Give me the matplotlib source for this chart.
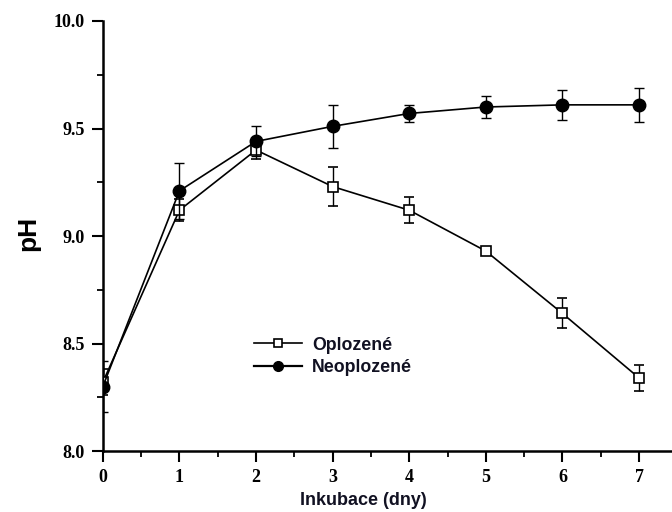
import numpy as np
import matplotlib.pyplot as plt
from matplotlib.ticker import MultipleLocator

days = [0, 1, 2, 3, 4, 5, 6, 7]

# fertilised eggs
ph_opl = [8.32, 9.12, 9.40, 9.23, 9.12, 8.93, 8.64, 8.34]
err_opl = [0.06, 0.05, 0.04, 0.09, 0.06, 0.02, 0.07, 0.06]

# unfertilised eggs
ph_neo = [8.30, 9.21, 9.44, 9.51, 9.57, 9.60, 9.61, 9.61]
err_neo = [0.12, 0.13, 0.07, 0.10, 0.04, 0.05, 0.07, 0.08]

fig = plt.figure(figsize=(6.72, 5.12), dpi=100)
ax = fig.add_axes([0.153, 0.119, 0.847, 0.840])

ax.errorbar(days, ph_opl, yerr=err_opl, color='k', lw=1.2, marker='s',
            ms=7, mfc='white', mec='k', mew=1.2, capsize=3.5, elinewidth=1.0,
            capthick=1.0, zorder=3)
ax.errorbar(days, ph_neo, yerr=err_neo, color='k', lw=1.2, marker='o',
            ms=9, mfc='k', mec='k', capsize=3.5, elinewidth=1.0,
            capthick=1.0, zorder=4)

# legend handles without error bars
h1, = ax.plot([], [], color='k', lw=1.2, marker='s', ms=6, mfc='white',
              mec='k', mew=1.2, label='Oplozené')
h2, = ax.plot([], [], color='k', lw=1.6, marker='o', ms=7, mfc='k',
              mec='k', label='Neoplozené')

ax.set_xlim(0, 7.43)
ax.set_ylim(8.0, 10.0)
ax.xaxis.set_major_locator(MultipleLocator(1))
ax.xaxis.set_minor_locator(MultipleLocator(0.5))
ax.yaxis.set_major_locator(MultipleLocator(0.5))
ax.yaxis.set_minor_locator(MultipleLocator(0.25))
ax.yaxis.set_major_formatter(plt.FormatStrFormatter('%.1f'))

for side in ['top', 'right']:
    ax.spines[side].set_visible(False)
for side in ['left', 'bottom']:
    ax.spines[side].set_linewidth(1.8)

ax.tick_params(which='major', direction='out', length=8, width=1.5, pad=5)
ax.tick_params(which='minor', direction='out', length=4, width=1.3)
for lab in ax.get_xticklabels() + ax.get_yticklabels():
    lab.set_family('Liberation Serif')
    lab.set_fontsize(13)
    lab.set_fontweight('bold')

ax.set_xlabel('Inkubace (dny)', family='Liberation Sans', fontweight='bold',
              fontsize=13, color='#111122')
ax.xaxis.set_label_coords(0.457, -0.095)
ax.set_ylabel('pH', family='Liberation Sans', fontweight='bold',
              fontsize=19)
ax.yaxis.set_label_coords(-0.11, 0.505)

leg = ax.legend(handles=[h1, h2], loc='upper left',
                bbox_to_anchor=(0.265, 0.266), frameon=False,
                prop={'family': 'Liberation Sans', 'weight': 'bold', 'size': 12.8},
                handlelength=2.7, handletextpad=0.6, labelspacing=0.32,
                borderpad=0, borderaxespad=0)
for t in leg.get_texts():
    t.set_color('#111122')

fig.savefig('out.png', dpi=100)
